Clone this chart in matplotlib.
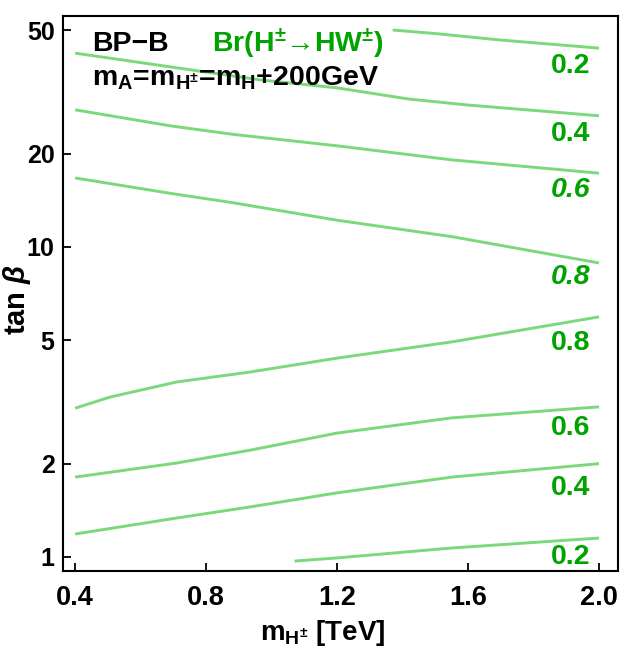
import numpy as np
import matplotlib
matplotlib.use('Agg')
import matplotlib.pyplot as plt

plt.rcParams['font.family'] = ['Liberation Sans', 'DejaVu Sans']
plt.rcParams['font.weight'] = 'bold'
plt.rcParams['mathtext.fontset'] = 'custom'
plt.rcParams['mathtext.rm'] = 'Liberation Sans:bold'
plt.rcParams['mathtext.bf'] = 'Liberation Sans:bold'
plt.rcParams['mathtext.it'] = 'Liberation Sans:italic'

#_________________________________________________________________________________________
# contour lines of Br(H+ -> H W+): (m_H+ [TeV], tan beta)

up02_x = [1.37, 1.51, 1.70, 2.00]
up02_y = [50.1, 48.7, 46.5, 43.8]

up04_x = [0.40, 0.965, 1.20, 1.42, 1.60, 2.00]
up04_y = [42.2, 34.6, 32.6, 30.0, 28.7, 26.5]

up06_x = [0.40, 0.69, 0.88, 1.20, 1.55, 2.00]
up06_y = [27.7, 24.6, 23.1, 21.2, 19.1, 17.3]

up08_x = [0.40, 0.69, 0.88, 1.20, 1.55, 2.00]
up08_y = [16.7, 14.9, 13.9, 12.2, 10.8, 8.88]

lo08_x = [0.40, 0.507, 0.711, 0.934, 1.20, 1.55, 2.00]
lo08_y = [3.02, 3.28, 3.67, 3.95, 4.38, 4.94, 5.95]

lo06_x = [0.40, 0.711, 0.934, 1.20, 1.55, 2.00]
lo06_y = [1.81, 2.01, 2.21, 2.51, 2.81, 3.05]

lo04_x = [0.40, 0.711, 0.934, 1.20, 1.55, 2.00]
lo04_y = [1.186, 1.336, 1.45, 1.61, 1.81, 2.00]

lo02_x = [1.07, 1.20, 1.55, 2.00]
lo02_y = [0.97, 0.993, 1.069, 1.151]

lines_x = [up02_x, up04_x, up06_x, up08_x, lo08_x, lo06_x, lo04_x, lo02_x]
lines_y = [up02_y, up04_y, up06_y, up08_y, lo08_y, lo06_y, lo04_y, lo02_y]

# contour labels
label_text = ['0.2', '0.4', '0.6', '0.8', '0.8', '0.6', '0.4', '0.2']
label_x = [1.914] * 8
label_y = [38.4, 23.1, 15.3, 8.0, 4.9, 2.61, 1.67, 1.0]
label_style = ['normal', 'normal', 'italic', 'italic', 'normal', 'normal', 'normal', 'normal']

xticks = [0.4, 0.8, 1.2, 1.6, 2.0]
yticks = [1, 2, 5, 10, 20, 50]

line_color = '#7bd87b'
text_color = '#00a300'

#_________________________________________________________________________________________

fig = plt.figure(figsize=(6.25, 6.48), dpi=100)
ax = fig.add_axes([0.1008, 0.1188, 0.888, 0.8565])

for i in range(len(lines_x)):
    ax.plot(lines_x[i], lines_y[i], color=line_color, lw=2.1, solid_capstyle='butt')

for i in range(len(label_text)):
    ax.text(label_x[i], label_y[i], label_text[i], color=text_color, fontsize=20.5,
            fontweight='bold', style=label_style[i], ha='center', va='center')

ax.set_yscale('log')
ax.set_xlim(0.363, 2.058)
ax.set_ylim(0.901, 55.6)
ax.set_xticks(xticks)
ax.set_xticklabels(['%.1f' % t for t in xticks])
ax.set_yticks(yticks)
ax.set_yticklabels([str(t) for t in yticks])
ax.yaxis.set_minor_locator(matplotlib.ticker.NullLocator())

ax.tick_params(axis='both', which='major', direction='in', length=6, width=1.3)
ax.tick_params(axis='y', labelsize=18, pad=6)
ax.tick_params(axis='x', labelsize=19.5, pad=10)
for sp in ax.spines.values():
    sp.set_linewidth(1.5)

ax.set_xlabel(r'$\mathbf{m}_{\mathbf{H}^{\pm}}$ [TeV]', fontsize=20, fontweight='bold')
ax.xaxis.set_label_coords(0.468, -0.085)
ax.set_ylabel(r'tan $\beta$', fontsize=21, fontweight='bold')
ax.yaxis.set_label_coords(-0.054, 0.49)

ax.text(0.052, 0.95, 'BP\u2212B', transform=ax.transAxes, fontsize=20.5,
        fontweight='bold', ha='left', va='center')
ax.text(0.268, 0.95, 'Br(H$^{\\pm}$\u2192HW$^{\\pm}$)', transform=ax.transAxes,
        fontsize=20.5, fontweight='bold', color=text_color, ha='left', va='center')
ax.text(0.052, 0.888, r'$\mathbf{m_A}$=$\mathbf{m}_{\mathbf{H}^{\pm}}$=$\mathbf{m_H}$+200GeV',
        transform=ax.transAxes, fontsize=20.5, fontweight='bold', ha='left', va='center')

fig.savefig('out.png', dpi=100)
plt.close()
